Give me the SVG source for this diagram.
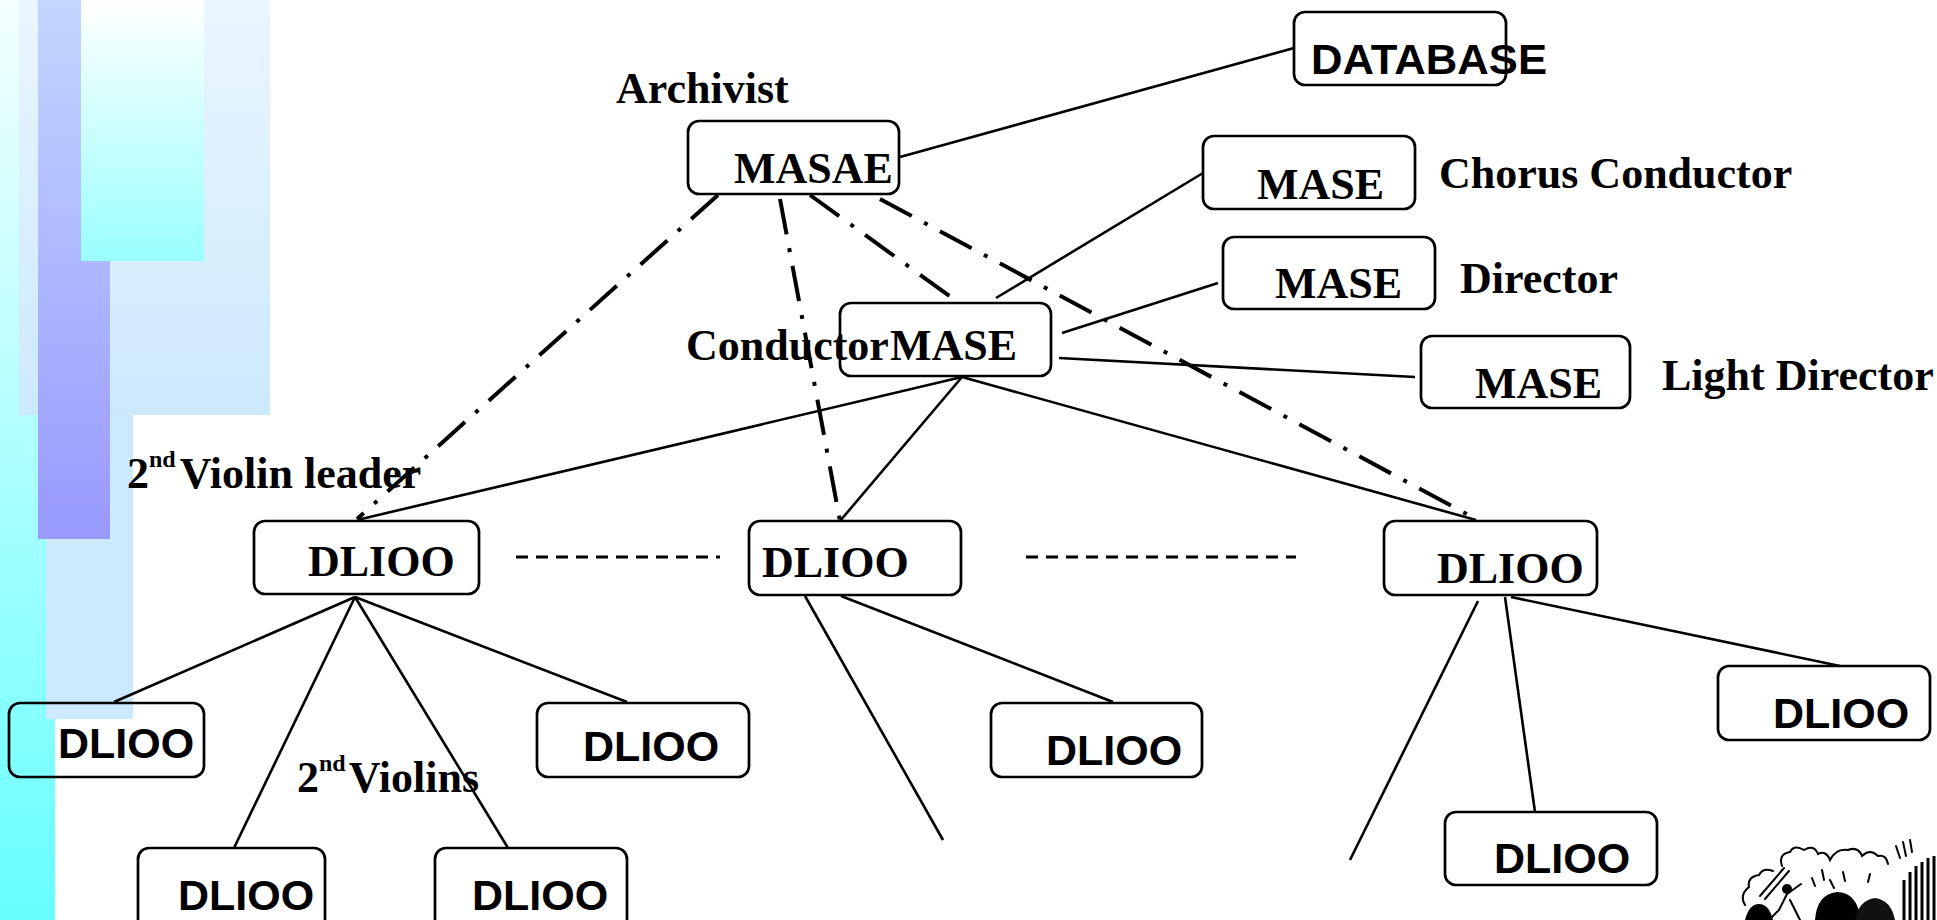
<svg xmlns="http://www.w3.org/2000/svg" width="1937" height="920" viewBox="0 0 1937 920">
  <defs>
    <linearGradient id="gStrip" x1="0" y1="0" x2="0" y2="1">
      <stop offset="0" stop-color="#f4ffff"/>
      <stop offset="1" stop-color="#66ffff"/>
    </linearGradient>
    <linearGradient id="gPale" x1="0" y1="0" x2="0" y2="1">
      <stop offset="0" stop-color="#eaf6ff"/>
      <stop offset="1" stop-color="#cce9fc"/>
    </linearGradient>
    <linearGradient id="gViolet" x1="0" y1="0" x2="0" y2="1">
      <stop offset="0" stop-color="#c2d6ff"/>
      <stop offset="1" stop-color="#9999ff"/>
    </linearGradient>
    <linearGradient id="gAqua" x1="0" y1="0" x2="0" y2="1">
      <stop offset="0" stop-color="#ffffff"/>
      <stop offset="1" stop-color="#99ffff"/>
    </linearGradient>
    <style>
      .box { fill: none; stroke: #000; stroke-width: 2.7; }
      .serif { font-family: "Liberation Serif", "Times New Roman", serif; font-weight: bold; font-size: 44px; fill: #000; }
      .sup { font-family: "Liberation Serif", "Times New Roman", serif; font-weight: bold; font-size: 24px; fill: #000; }
      .sans { font-family: "Liberation Sans", Arial, sans-serif; font-weight: bold; font-size: 43px; fill: #000; }
      .solid { stroke: #000; stroke-width: 2.6; fill: none; }
      .dashdot { stroke: #000; stroke-width: 4; fill: none; stroke-dasharray: 36 14 4 14; }
      .dashed { stroke: #000; stroke-width: 3; fill: none; stroke-dasharray: 12 8; }
      .ink { stroke: #000; fill: none; stroke-width: 2; stroke-linecap: round; }
    </style>
  </defs>

  <!-- slide background decoration -->
  <g id="background">
    <rect x="0" y="0" width="1937" height="920" fill="#ffffff"/>
    <rect x="0" y="0" width="55" height="920" fill="url(#gStrip)"/>
    <rect x="19" y="0" width="251" height="415" fill="url(#gPale)"/>
    <rect x="46" y="415" width="87" height="304" fill="#cceaff"/>
    <rect x="38" y="0" width="72" height="539" fill="url(#gViolet)"/>
    <rect x="81" y="0" width="123" height="261" fill="url(#gAqua)"/>
  </g>

  <!-- connectors -->
  <g id="connectors">
    <line class="solid" x1="900" y1="157" x2="1294" y2="48"/>
    <line class="solid" x1="996" y1="298" x2="1203" y2="173"/>
    <line class="solid" x1="1062" y1="333" x2="1218" y2="283"/>
    <line class="solid" x1="1059" y1="358" x2="1415" y2="377"/>
    <line class="solid" x1="962" y1="377" x2="357" y2="520"/>
    <line class="solid" x1="962" y1="377" x2="840" y2="521"/>
    <line class="solid" x1="962" y1="377" x2="1476" y2="520"/>
    <line class="solid" x1="355" y1="597" x2="114" y2="702"/>
    <line class="solid" x1="355" y1="597" x2="234" y2="848"/>
    <line class="solid" x1="355" y1="597" x2="508" y2="848"/>
    <line class="solid" x1="355" y1="597" x2="627" y2="702"/>
    <line class="solid" x1="805" y1="596" x2="943" y2="840"/>
    <line class="solid" x1="841" y1="596" x2="1113" y2="702"/>
    <line class="solid" x1="1478" y1="601" x2="1350" y2="860"/>
    <line class="solid" x1="1505" y1="597" x2="1535" y2="812"/>
    <line class="solid" x1="1511" y1="597" x2="1840" y2="666"/>
    <line class="dashdot" x1="718" y1="195" x2="357" y2="519"/>
    <line class="dashdot" x1="780" y1="199" x2="840" y2="521"/>
    <line class="dashdot" x1="810" y1="195" x2="955" y2="300"/>
    <line class="dashdot" x1="880" y1="199" x2="1476" y2="519"/>
    <line class="dashed" x1="516" y1="557" x2="720" y2="557"/>
    <line class="dashed" x1="1026" y1="557" x2="1296" y2="557"/>
  </g>

  <!-- archivist -->
  <g id="archivist">
    <rect class="box" x="688" y="121" width="211" height="73" rx="11"/>
    <text class="serif" x="734" y="183">MASAE</text>
    <text class="serif" x="616" y="103">Archivist</text>
  </g>

  <g id="database">
    <rect class="box" x="1294" y="12" width="212" height="73" rx="11"/>
    <text class="sans" x="1311" y="74" font-size="44" textLength="236" lengthAdjust="spacingAndGlyphs">DATABASE</text>
  </g>

  <g id="chorus-conductor">
    <rect class="box" x="1203" y="136" width="212" height="73" rx="11"/>
    <text class="serif" x="1257" y="199">MASE</text>
    <text class="serif" x="1439" y="188">Chorus Conductor</text>
  </g>

  <g id="director">
    <rect class="box" x="1223" y="237" width="212" height="72" rx="11"/>
    <text class="serif" x="1275" y="298">MASE</text>
    <text class="serif" x="1460" y="293">Director</text>
  </g>

  <g id="light-director">
    <rect class="box" x="1421" y="336" width="209" height="72" rx="11"/>
    <text class="serif" x="1475" y="398">MASE</text>
    <text class="serif" x="1662" y="390">Light Director</text>
  </g>

  <g id="conductor">
    <rect class="box" x="840" y="303" width="211" height="73" rx="11"/>
    <text class="serif" x="890" y="360">MASE</text>
    <text class="serif" x="686" y="360">Conductor</text>
  </g>

  <g id="violin-leader">
    <rect class="box" x="254" y="521" width="225" height="73" rx="11"/>
    <text class="serif" x="308" y="576">DLIOO</text>
    <text class="serif" x="127" y="488">2<tspan class="sup" dy="-21">nd</tspan><tspan dy="21" dx="4">Violin leader</tspan></text>
  </g>

  <g id="section-mid">
    <rect class="box" x="749" y="521" width="212" height="74" rx="11"/>
    <text class="serif" x="762" y="577">DLIOO</text>
  </g>

  <g id="section-right">
    <rect class="box" x="1384" y="521" width="213" height="74" rx="11"/>
    <text class="serif" x="1437" y="583">DLIOO</text>
  </g>

  <g id="violin-a">
    <rect class="box" x="9" y="703" width="195" height="74" rx="11"/>
    <text class="sans" x="58" y="758">DLIOO</text>
  </g>

  <g id="violin-b">
    <rect class="box" x="537" y="703" width="212" height="74" rx="11"/>
    <text class="sans" x="583" y="761">DLIOO</text>
  </g>

  <g id="violin-c">
    <rect class="box" x="138" y="848" width="187" height="90" rx="11"/>
    <text class="sans" x="178" y="910">DLIOO</text>
  </g>

  <g id="violin-d">
    <rect class="box" x="435" y="848" width="192" height="90" rx="11"/>
    <text class="sans" x="472" y="910">DLIOO</text>
  </g>

  <g id="violins-label">
    <text class="serif" x="297" y="792">2<tspan class="sup" dy="-21">nd</tspan><tspan dy="21" dx="3">Violins</tspan></text>
  </g>

  <g id="mid-member">
    <rect class="box" x="991" y="703" width="211" height="74" rx="11"/>
    <text class="sans" x="1046" y="765">DLIOO</text>
  </g>

  <g id="right-member-a">
    <rect class="box" x="1718" y="666" width="212" height="74" rx="11"/>
    <text class="sans" x="1773" y="728">DLIOO</text>
  </g>

  <g id="right-member-b">
    <rect class="box" x="1445" y="812" width="212" height="73" rx="11"/>
    <text class="sans" x="1494" y="873">DLIOO</text>
  </g>

  <!-- small orchestra sketch, bottom right corner -->
  <g id="orchestra-sketch">
    <path class="ink" d="M1745 905 q-6 -10 4 -18 q-2 -10 10 -12 q4 -8 14 -4 M1782 866 q-4 -12 8 -14 q4 -8 14 -2 q10 -6 14 4 q8 -4 12 6 q6 -12 18 -10 q10 -4 14 6 q8 -8 16 0 q8 -2 10 8"/>
    <path class="ink" d="M1760 896 l24 -28 M1765 899 l24 -28" stroke-width="2.5"/>
    <circle cx="1787" cy="889" r="5" fill="#000"/>
    <path class="ink" d="M1787 894 l-8 16 l-10 10 M1787 894 l14 -10 M1790 900 l10 20" stroke-width="3"/>
    <path d="M1815 920 q2 -26 22 -28 q20 0 24 28 z" fill="#000"/>
    <path d="M1855 920 q4 -20 20 -22 q16 2 20 22 z" fill="#111"/>
    <path d="M1745 920 q4 -16 14 -16 q10 0 14 16 z" fill="#000"/>
    <path class="ink" d="M1812 878 l3 8 M1822 870 l2 10 M1830 880 l4 8 M1843 872 l2 9 M1870 874 l-2 8" stroke-width="1.5"/>
    <g stroke="#000" stroke-width="3">
      <line x1="1904" y1="880" x2="1904" y2="920"/>
      <line x1="1910" y1="872" x2="1910" y2="920"/>
      <line x1="1916" y1="866" x2="1916" y2="920"/>
      <line x1="1922" y1="862" x2="1922" y2="920"/>
      <line x1="1928" y1="858" x2="1928" y2="920"/>
      <line x1="1934" y1="856" x2="1934" y2="920"/>
    </g>
    <path class="ink" d="M1900 858 l-4 -12 M1906 856 l-3 -14 M1912 852 l-2 -12" stroke-width="1.5"/>
  </g>
</svg>
